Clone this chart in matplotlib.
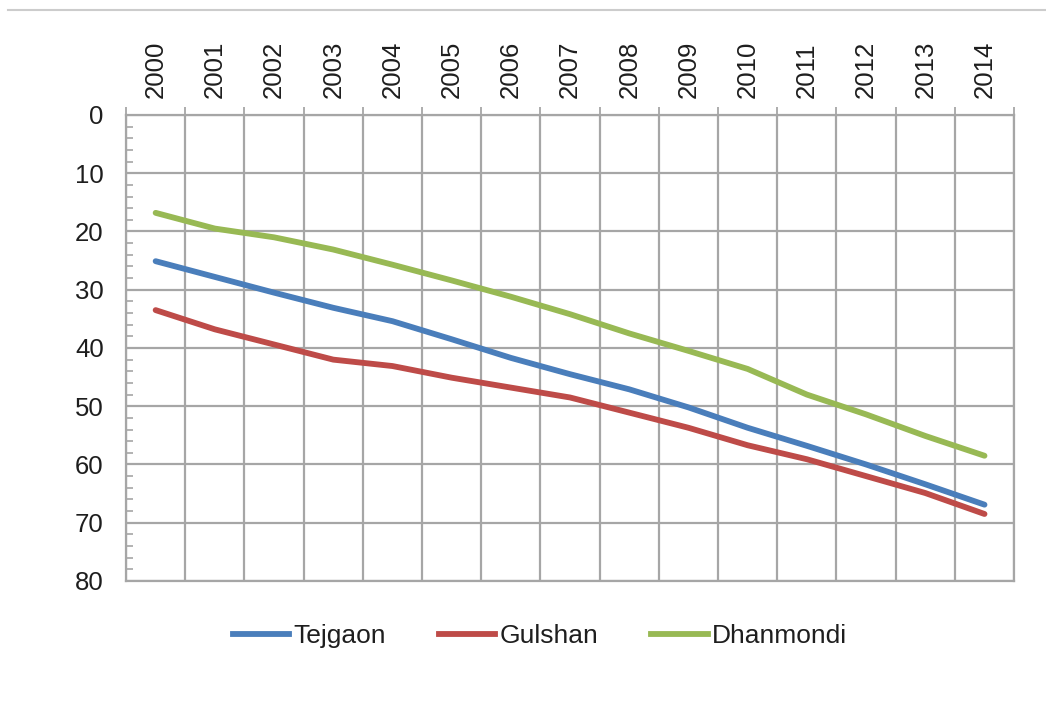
import matplotlib
matplotlib.use("Agg")
import matplotlib.pyplot as plt
from matplotlib.lines import Line2D
import numpy as np

years = ["2000", "2001", "2002", "2003", "2004", "2005", "2006", "2007",
         "2008", "2009", "2010", "2011", "2012", "2013", "2014"]
tejgaon = [25.1, 27.8, 30.5, 33.1, 35.4, 38.5, 41.7, 44.5, 47.1, 50.2,
           53.7, 56.8, 60.0, 63.4, 66.9]
gulshan = [33.5, 36.8, 39.4, 42.0, 43.1, 45.1, 46.8, 48.5, 51.1, 53.7,
           56.7, 59.1, 62.0, 64.9, 68.5]
dhanmondi = [16.8, 19.5, 21.0, 23.1, 25.7, 28.4, 31.2, 34.2, 37.5, 40.5,
             43.6, 48.0, 51.4, 55.1, 58.5]
series_names = ["Tejgaon", "Gulshan", "Dhanmondi"]
colors = ["#4a7ebb", "#be4b48", "#98b954"]

plt.rcParams['font.family'] = ['Liberation Sans', 'DejaVu Sans']

fig = plt.figure(figsize=(10.46, 7.02), dpi=100)
ax = fig.add_axes([0.1205, 0.1724, 0.849, 0.6638])

x = np.arange(len(years))
for vals, name, c in zip([tejgaon, gulshan, dhanmondi], series_names, colors):
    ax.plot(x, vals, color=c, lw=4.2, label=name, solid_capstyle='round',
            solid_joinstyle='round', zorder=3)

grid_c = "#a6a6a6"
txt_c = "#1e1e1e"
ax.set_xlim(-0.5, len(years) - 0.5)
ax.set_ylim(80, 0)

# x axis on top: boundary ticks, labels at centers
ax.xaxis.tick_top()
ax.set_xticks(np.arange(-0.5, len(years), 1.0))
ax.set_xticklabels([])
ax.set_xticks(x, minor=True)
ax.set_xticklabels(years, minor=True, rotation=90, fontsize=18.5, color=txt_c)
ax.tick_params(axis='x', which='major', direction='out', length=6, width=1.3,
               color=grid_c)
ax.tick_params(axis='x', which='minor', length=0, pad=12)

ax.set_yticks(np.arange(0, 81, 10))
ax.set_yticks(np.arange(0, 81, 2), minor=True)
ax.tick_params(axis='y', which='major', length=0, pad=16, labelsize=18.5,
               labelcolor=txt_c)
ax.tick_params(axis='y', which='minor', direction='in', length=5, width=1.2,
               color=grid_c)

ax.grid(True, which='major', color=grid_c, lw=1.6, zorder=1)
ax.set_axisbelow(True)
for s in ax.spines.values():
    s.set_color(grid_c)
    s.set_linewidth(1.6)

handles = [Line2D([0], [0], color=c, lw=4.2) for c in colors]
leg = fig.legend(handles, series_names, loc='center', bbox_to_anchor=(0.516, 0.094),
                 ncol=3, frameon=False, fontsize=19, handlelength=2.15,
                 handletextpad=0.15, columnspacing=2.0)
for t in leg.get_texts():
    t.set_color(txt_c)

fig.add_artist(Line2D([0.008, 1.0], [0.986, 0.986], color="#cccccc", lw=1.5,
                      transform=fig.transFigure))

fig.savefig("out.png", dpi=100)
